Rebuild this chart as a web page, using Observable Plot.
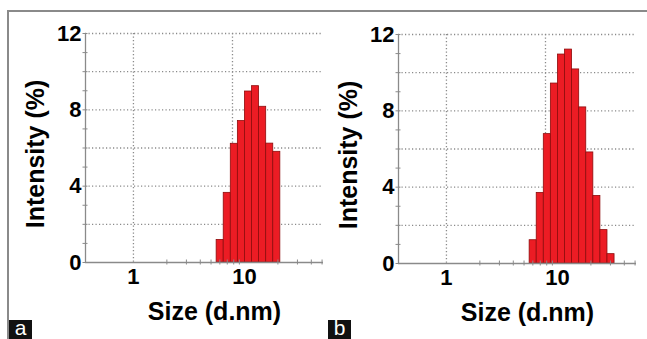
<!DOCTYPE html>
<html>
<head>
<meta charset="utf-8">
<script src="https://cdn.jsdelivr.net/npm/d3@7"></script>
<script src="https://cdn.jsdelivr.net/npm/@observablehq/plot@0.6"></script>
<style>
  html, body { margin: 0; padding: 0; background: #fff; }
  #fig { position: relative; width: 647px; height: 339px; overflow: hidden; background: #fff; font-family: "Liberation Sans", Arial, sans-serif; }
  #frame { position: absolute; left: 7px; top: 10px; width: 660px; height: 340px; border-top: 2px solid #8a8a8a; border-left: 2px solid #8a8a8a; box-sizing: border-box; }
  .panel { position: absolute; }
  .tag { position: absolute; width: 23px; height: 19px; background: #111; color: #fff; font-size: 21px; line-height: 16px; text-align: center; overflow: visible; }
</style>
</head>
<body>
<div id="fig">
  <div id="frame"></div>
  <div id="pa" class="panel" style="left:0px; top:0px"></div>
  <div id="pb" class="panel" style="left:313px; top:1px"></div>
  <div class="tag" style="left:9px; top:320px">a</div>
  <div class="tag" style="left:328px; top:320px">b</div>
</div>
<script>
// Bin edges (d.nm) and intensities (%)
const sizeEdgesA = [5.615, 6.503, 7.531, 8.721, 10.10, 11.70, 13.54, 15.69, 18.17, 21.04];
const intensityA = [1.18, 3.65, 6.22, 7.41, 8.96, 9.24, 8.16, 6.23, 5.80];
const sizeEdgesB = [5.615, 6.503, 7.531, 8.721, 10.10, 11.70, 13.54, 15.69, 18.17, 21.04, 24.36, 28.21, 32.67];
const intensityB = [1.22, 3.70, 6.78, 9.43, 10.95, 11.21, 10.17, 8.18, 5.82, 3.54, 1.75, 0.49];

const xTickValues = [1, 10];
const xMinorTicks = [2, 3, 4, 5, 6, 7, 8, 9, 20, 30, 40, 50];
const xGridValues = [1, 7.8];
const yTickValues = [0, 4, 8, 12];
const yMinorTicks = [0, 1, 2, 3, 4, 5, 6, 7, 8, 9, 10, 11, 12];
const yGridValues = [2, 4, 6, 8, 10, 12];
const xDomain = [0.37, 51.5];
const yDomain = [0, 12];

const gray = "#8a8a8a";
const dotted = {stroke: gray, strokeOpacity: 1, strokeWidth: 1.3, strokeDasharray: "1.2,2.3"};

function panel(edges, values) {
  const bins = values.map((v, i) => ({x1: edges[i], x2: edges[i + 1], v}));
  return Plot.plot({
    width: 330, height: 339,
    marginLeft: 85, marginRight: 7, marginTop: 33, marginBottom: 77,
    x: {type: "log", domain: xDomain, label: null},
    y: {domain: yDomain, label: null},
    style: {fontFamily: "'Liberation Sans', Arial, sans-serif", background: "transparent", overflow: "visible", color: "black"},
    marks: [
      Plot.gridY(yGridValues, dotted),
      Plot.gridX(xGridValues, dotted),
      Plot.rect(bins, {x1: "x1", x2: "x2", y1: 0, y2: "v", fill: "#ec1c24", stroke: "#8e0c0c", strokeWidth: 0.8}),
      Plot.ruleY([0], {stroke: gray, strokeWidth: 1.3}),
      Plot.ruleX([xDomain[0]], {y1: yDomain[0], y2: yDomain[1], stroke: gray, strokeWidth: 1.3}),
      Plot.axisY(yMinorTicks, {tickSize: 5, dx: 2.5, tickFormat: () => "", stroke: gray, label: null}),
      Plot.axisY(yTickValues, {tickSize: 0, tickPadding: 4, fontSize: 22, fontWeight: "bold", tickFormat: d => String(d), label: null}),
      Plot.axisX(xMinorTicks, {tickSize: 5, dy: -2.5, tickFormat: () => "", stroke: gray, label: null}),
      Plot.axisX(xTickValues, {tickSize: 0, tickPadding: 6, fontSize: 22, fontWeight: "bold", tickFormat: d => String(d), label: null}),
      Plot.text(["Intensity (%)"], {text: d => d, frameAnchor: "left", textAnchor: "middle", lineAnchor: "middle", rotate: -90, dx: -50, dy: 6, fontSize: 25, fontWeight: "bold", fill: "black"}),
      Plot.text(["Size (d.nm)"], {text: d => d, frameAnchor: "bottom", textAnchor: "middle", lineAnchor: "middle", dx: 10, dy: 49, fontSize: 25, fontWeight: "bold", fill: "black"})
    ]
  });
}

document.getElementById("pa").appendChild(panel(sizeEdgesA, intensityA));
document.getElementById("pb").appendChild(panel(sizeEdgesB, intensityB));
</script>
</body>
</html>
